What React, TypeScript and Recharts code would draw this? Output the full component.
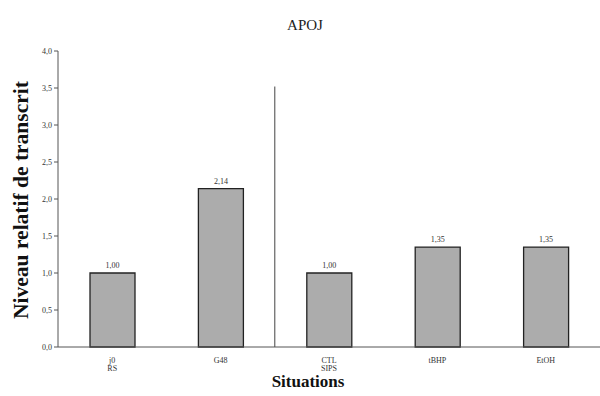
import React from "react";
import { BarChart, Bar, XAxis, YAxis, ReferenceLine, LabelList, Label } from "recharts";

const categories = ["j0\nRS", "G48", "CTL\nSIPS", "tBHP", "EtOH"];
const positions = [0.5, 1.5, 2.5, 3.5, 4.5];
const values = [1.0, 2.14, 1.0, 1.35, 1.35];
const yTicks = [0, 0.5, 1, 1.5, 2, 2.5, 3, 3.5, 4];

const data = categories.map((c, i) => ({ x: positions[i], name: c, value: values[i] }));

const SERIF = "'Liberation Serif', 'DejaVu Serif', serif";

const fmt = (v: number, d: number) => v.toFixed(d).replace(".", ",");

const XTick = (props: any) => {
  const { x, y, payload } = props;
  const idx = positions.indexOf(payload.value);
  const lines = (categories[idx] || "").split("\n");
  return (
    <text x={x} y={y + 8} textAnchor="middle" fontFamily={SERIF} fontSize={8} fill="#333">
      {lines.map((l, i) => (
        <tspan key={i} x={x} dy={i === 0 ? 0 : 8}>
          {l}
        </tspan>
      ))}
    </text>
  );
};

export default function App() {
  return (
    <div style={{ position: "absolute", left: 0, top: 0, width: 600, height: 396, background: "#fff" }}>
      <div
        style={{
          position: "absolute",
          left: 0,
          top: 17,
          width: 610,
          textAlign: "center",
          fontFamily: SERIF,
          fontSize: 15,
          color: "#222",
        }}
      >
        APOJ
      </div>
      <BarChart width={600} height={396} data={data} margin={{ top: 51, right: 0, bottom: 0, left: 0 }}>
        <XAxis
          dataKey="x"
          type="number"
          domain={[0, 5]}
          ticks={positions}
          tick={<XTick />}
          tickLine={false}
          axisLine={{ stroke: "#555" }}
          height={49}
          interval={0}
        >
          <Label
            content={() => (
              <text x={308} y={387} textAnchor="middle" fontFamily={SERIF} fontWeight="bold" fontSize={17} fill="#111">
                Situations
              </text>
            )}
          />
        </XAxis>
        <YAxis
          domain={[0, 4]}
          ticks={yTicks}
          width={58}
          tickFormatter={(v: number) => fmt(v, 1)}
          tick={{ fontFamily: SERIF, fontSize: 8, fill: "#333" }}
          tickLine={{ stroke: "#555" }}
          tickSize={4}
          axisLine={{ stroke: "#555" }}
        >
          <Label
            content={() => (
              <text
                x={28}
                y={200}
                transform="rotate(-90 28 200)"
                textAnchor="middle"
                fontFamily={SERIF}
                fontWeight="bold"
                fontSize={21.5}
                fill="#111"
              >
                Niveau relatif de transcrit
              </text>
            )}
          />
        </YAxis>
        <ReferenceLine
          segment={[
            { x: 2, y: 0 },
            { x: 2, y: 3.52 },
          ]}
          stroke="#444"
          strokeWidth={1}
        />
        <Bar dataKey="value" barSize={45} fill="#acacac" stroke="#222" strokeWidth={1.3} isAnimationActive={false}>
          <LabelList
            dataKey="value"
            position="top"
            offset={5}
            formatter={(v: any) => fmt(Number(v), 2)}
            style={{ fontFamily: SERIF, fontSize: 8, fill: "#333" }}
          />
        </Bar>
      </BarChart>
    </div>
  );
}
